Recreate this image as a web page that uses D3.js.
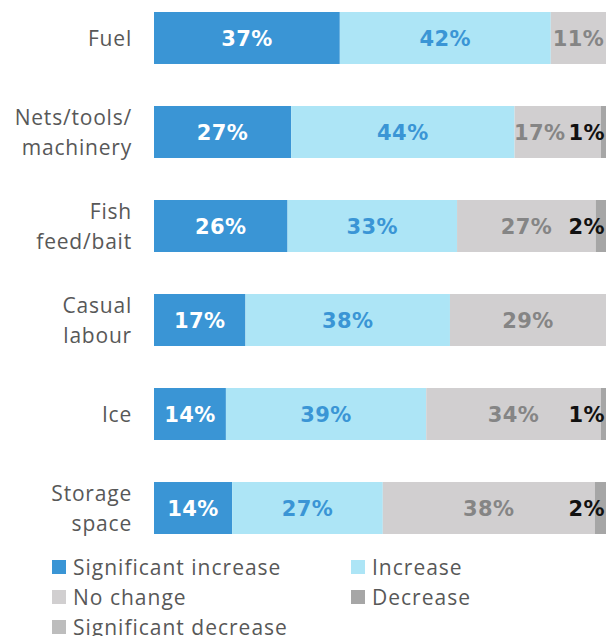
<!DOCTYPE html>
<html lang="en">
<head>
    <meta charset="UTF-8">
    <title>Cost changes</title>
    <script src="https://d3js.org/d3.v7.min.js"></script>
    <style>
        body { margin: 0; background: #fff; }
        svg text { font-family: "Open Sans", "Noto Sans", sans-serif; }
        svg text.value { font-family: "DejaVu Sans", sans-serif; }
    </style>
</head>
<body>
<div id="chart"></div>
<script>
    var categories = ["Fuel", "Nets/tools/machinery", "Fish feed/bait", "Casual labour", "Ice", "Storage space"];
    var categoryLines = [["Fuel"], ["Nets/tools/", "machinery"], ["Fish", "feed/bait"], ["Casual", "labour"], ["Ice"], ["Storage", "space"]];

    var seriesNames = ["Significant increase", "Increase", "No change", "Decrease", "Significant decrease"];
    var sigIncrease = [37, 27, 26, 17, 14, 14];
    var increase = [42, 44, 33, 38, 39, 27];
    var noChange = [11, 17, 27, 29, 34, 38];
    var decrease = [0, 1, 2, 0, 1, 2];
    var sigDecrease = [0, 0, 0, 0, 0, 0];

    var fills = ["#3a95d5", "#ade5f6", "#d1cfd0", "#a6a6a6", "#bdbdbd"];
    var labelColors = ["#ffffff", "#3a95d5", "#858585", "#111111", "#111111"];

    var rows = categories.map(function(c, i) {
        return {
            category: c,
            "Significant increase": sigIncrease[i],
            "Increase": increase[i],
            "No change": noChange[i],
            "Decrease": decrease[i],
            "Significant decrease": sigDecrease[i]
        };
    });

    var width = 607, height = 636;
    var left = 154, right = 606;

    var svg = d3.select("#chart").append("svg")
        .attr("width", width)
        .attr("height", height);

    // bars are shown as share of the answers that are drawn
    var stack = d3.stack().keys(seriesNames).offset(d3.stackOffsetExpand);
    var layers = stack(rows);

    var x = d3.scaleLinear().domain([0, 1]).range([left, right]);
    var y = d3.scaleBand().domain(categories).range([12, 534]).paddingInner(0.447).paddingOuter(0);

    var groups = svg.selectAll("g.layer")
        .data(layers)
        .enter().append("g")
        .attr("class", "layer")
        .attr("fill", function(d, i) { return fills[i]; });

    groups.selectAll("rect")
        .data(function(d) { return d; })
        .enter().append("rect")
        .attr("x", function(d) { return x(d[0]); })
        .attr("y", function(d) { return y(d.data.category); })
        .attr("width", function(d) { return Math.max(0, x(d[1]) - x(d[0])); })
        .attr("height", y.bandwidth());

    // value labels, pushed left where they would collide
    categories.forEach(function(cat, ci) {
        var labels = [];
        layers.forEach(function(layer, si) {
            var d = layer[ci];
            var v = rows[ci][seriesNames[si]];
            if (!v) return;
            var t = svg.append("text")
                .attr("class", "value")
                .attr("y", y(cat) + y.bandwidth() / 2)
                .attr("dy", "0.36em")
                .attr("text-anchor", "middle")
                .style("font-size", "21px")
                .style("font-weight", "bold")
                .style("letter-spacing", "0.4px")
                .attr("fill", labelColors[si])
                .text(v + "%");
            var w = t.node().getComputedTextLength();
            labels.push({ node: t, cx: (x(d[0]) + x(d[1])) / 2, w: w });
        });
        var limit = right - 1;
        for (var k = labels.length - 1; k >= 0; k--) {
            var l = labels[k];
            var end = Math.min(l.cx + l.w / 2, limit);
            l.node.attr("x", end - l.w / 2);
            limit = end - l.w - 3;
        }
    });

    // category names
    categoryLines.forEach(function(lines, i) {
        var cy = y(categories[i]) + y.bandwidth() / 2;
        var t = svg.append("text")
            .attr("text-anchor", "end")
            .attr("fill", "#585858")
            .style("font-size", "21px")
            .style("letter-spacing", "0.8px");
        lines.forEach(function(line, j) {
            t.append("tspan")
                .attr("x", 132)
                .attr("y", cy + (j - (lines.length - 1) / 2) * 30)
                .attr("dy", "0.36em")
                .text(line);
        });
    });

    // legend
    var legend = svg.append("g");
    seriesNames.forEach(function(name, i) {
        var lx = i % 2 === 0 ? 52 : 351;
        var ly = 567 + Math.floor(i / 2) * 30;
        legend.append("rect")
            .attr("x", lx)
            .attr("y", ly - 7)
            .attr("width", 14)
            .attr("height", 14)
            .attr("fill", fills[i]);
        legend.append("text")
            .attr("x", lx + 21)
            .attr("y", ly)
            .attr("dy", "0.36em")
            .attr("fill", "#585858")
            .style("font-size", "21px")
            .style("letter-spacing", "1px")
            .text(name);
    });
</script>
</body>
</html>
